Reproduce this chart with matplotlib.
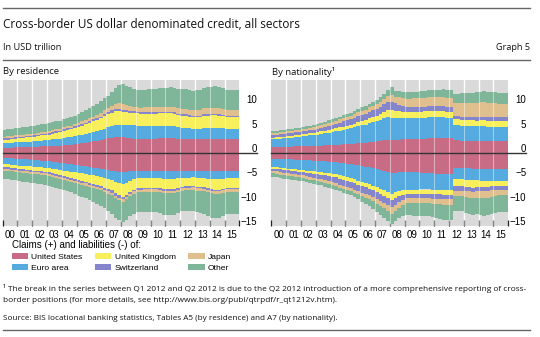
import matplotlib
matplotlib.use("Agg")
import matplotlib.pyplot as plt
import numpy as np
from matplotlib.transforms import ScaledTranslation
from matplotlib.patches import Patch
from matplotlib.lines import Line2D

# ---------------- data (USD trillion, quarterly 2000Q1-2015Q4) ----------------
years = list(range(2000, 2016))
year_labels = ["00", "01", "02", "03", "04", "05", "06", "07",
               "08", "09", "10", "11", "12", "13", "14", "15"]
series_names = ["United States", "Euro area", "United Kingdom",
                "Switzerland", "Japan", "Other"]

# By residence – claims (+)
res_claims_us = [1.1, 1.1, 1.1, 1.2, 1.2, 1.2, 1.3, 1.3, 1.3, 1.3, 1.4, 1.4, 1.4, 1.5, 1.5, 1.5,
                 1.6, 1.7, 1.7, 1.8, 1.9, 2.0, 2.1, 2.2, 2.4, 2.5, 2.6, 2.8, 3.0, 3.1, 3.2, 3.2,
                 3.2, 3.1, 3.0, 2.9, 2.8, 2.8, 2.9, 2.9, 2.9, 2.9, 3.0, 3.0, 3.0, 3.0, 3.0, 2.9,
                 2.9, 2.9, 2.9, 2.8, 2.8, 2.8, 2.9, 2.9, 2.9, 2.9, 2.9, 2.9, 2.9, 2.9, 2.9, 2.9]
res_claims_ea = [0.95, 0.95, 1.0, 1.0, 1.0, 1.0, 1.05, 1.05, 1.1, 1.1, 1.15, 1.2, 1.25, 1.3, 1.35, 1.4,
                 1.5, 1.55, 1.6, 1.65, 1.7, 1.75, 1.8, 1.85, 1.9, 2.0, 2.1, 2.2, 2.3, 2.4, 2.5, 2.6,
                 2.6, 2.7, 2.8, 2.8, 2.8, 2.7, 2.7, 2.7, 2.7, 2.7, 2.6, 2.6, 2.6, 2.6, 2.5, 2.4,
                 2.3, 2.3, 2.2, 2.2, 2.2, 2.2, 2.3, 2.3, 2.3, 2.3, 2.2, 2.2, 2.1, 2.1, 2.1, 2.1]
res_claims_uk = [0.65, 0.7, 0.7, 0.75, 0.8, 0.85, 0.85, 0.9, 0.95, 1.0, 1.05, 1.1, 1.15, 1.2, 1.3, 1.4,
                 1.5, 1.55, 1.6, 1.7, 1.8, 1.9, 2.0, 2.1, 2.2, 2.3, 2.4, 2.6, 2.7, 2.8, 2.9, 2.8,
                 2.6, 2.6, 2.5, 2.6, 2.6, 2.6, 2.5, 2.5, 2.5, 2.5, 2.6, 2.6, 2.6, 2.6, 2.6, 2.5,
                 2.5, 2.5, 2.4, 2.4, 2.4, 2.4, 2.5, 2.5, 2.6, 2.6, 2.6, 2.5, 2.4, 2.4, 2.4, 2.4]
res_claims_ch = [0.3, 0.3, 0.3, 0.3, 0.3, 0.3, 0.3, 0.3, 0.3, 0.3, 0.3, 0.3, 0.3, 0.3, 0.3, 0.3,
                 0.3, 0.3, 0.3, 0.3, 0.35, 0.35, 0.35, 0.35, 0.4, 0.4, 0.4, 0.4, 0.4, 0.45, 0.5, 0.5,
                 0.5, 0.45, 0.4, 0.35, 0.3, 0.3, 0.3, 0.3, 0.3, 0.3, 0.3, 0.3, 0.3, 0.3, 0.3, 0.3,
                 0.3, 0.3, 0.3, 0.3, 0.3, 0.3, 0.3, 0.3, 0.3, 0.3, 0.3, 0.3, 0.3, 0.3, 0.3, 0.3]
res_claims_jp = [0.35, 0.35, 0.35, 0.35, 0.35, 0.35, 0.35, 0.35, 0.35, 0.35, 0.35, 0.35, 0.35, 0.35, 0.4, 0.4,
                 0.4, 0.45, 0.45, 0.5, 0.5, 0.55, 0.55, 0.6, 0.6, 0.65, 0.7, 0.75, 0.8, 0.9, 1.0, 1.1,
                 1.2, 1.1, 1.0, 0.9, 0.9, 0.9, 1.0, 1.0, 1.0, 1.0, 1.0, 1.0, 1.0, 1.0, 1.1, 1.1,
                 1.1, 1.1, 1.1, 1.1, 1.1, 1.1, 1.2, 1.2, 1.2, 1.2, 1.2, 1.2, 1.2, 1.2, 1.2, 1.2]
res_claims_ot = [1.45, 1.45, 1.5, 1.5, 1.5, 1.55, 1.55, 1.6, 1.6, 1.65, 1.7, 1.7, 1.75, 1.75, 1.7, 1.65,
                 1.6, 1.65, 1.7, 1.75, 1.8, 1.9, 2.0, 2.1, 2.2, 2.3, 2.4, 2.5, 2.6, 2.9, 3.3, 3.8,
                 4.0, 3.9, 3.8, 3.6, 3.5, 3.6, 3.6, 3.7, 3.8, 3.8, 3.9, 3.9, 3.9, 4.0, 3.9, 3.9,
                 4.0, 4.0, 4.0, 4.0, 4.1, 4.2, 4.2, 4.3, 4.3, 4.4, 4.3, 4.2, 4.1, 4.1, 4.1, 4.0]

# By residence – liabilities (-), magnitudes
res_liab_us = [1.0, 1.05, 1.1, 1.15, 1.2, 1.25, 1.3, 1.35, 1.4, 1.45, 1.55, 1.6, 1.7, 1.8, 1.9, 2.0,
               2.1, 2.2, 2.3, 2.4, 2.5, 2.6, 2.7, 2.85, 3.0, 3.1, 3.2, 3.35, 3.5, 3.6, 3.8, 3.9,
               4.0, 3.9, 3.8, 3.7, 3.7, 3.7, 3.7, 3.7, 3.7, 3.7, 3.8, 3.8, 3.8, 3.8, 3.8, 3.7,
               3.6, 3.6, 3.6, 3.6, 3.7, 3.7, 3.7, 3.8, 3.8, 3.8, 3.8, 3.8, 3.7, 3.7, 3.7, 3.7]
res_liab_ea = [1.3, 1.3, 1.35, 1.35, 1.4, 1.4, 1.4, 1.4, 1.4, 1.4, 1.4, 1.4, 1.4, 1.45, 1.45, 1.5,
               1.5, 1.5, 1.55, 1.55, 1.6, 1.6, 1.6, 1.6, 1.6, 1.65, 1.7, 1.75, 1.8, 1.9, 2.1, 2.3,
               2.4, 2.2, 1.9, 1.6, 1.4, 1.4, 1.4, 1.4, 1.4, 1.4, 1.4, 1.5, 1.5, 1.5, 1.5, 1.5,
               1.5, 1.5, 1.5, 1.4, 1.4, 1.4, 1.5, 1.5, 1.6, 1.6, 1.6, 1.5, 1.5, 1.5, 1.5, 1.5]
res_liab_uk = [0.6, 0.62, 0.65, 0.68, 0.7, 0.72, 0.75, 0.78, 0.8, 0.82, 0.85, 0.88, 0.9, 0.95, 1.05, 1.1,
               1.2, 1.25, 1.3, 1.4, 1.5, 1.55, 1.6, 1.7, 1.8, 1.85, 1.9, 2.0, 2.1, 2.2, 2.4, 2.5,
               2.6, 2.5, 2.3, 2.2, 2.1, 2.1, 2.0, 2.0, 2.0, 2.0, 2.0, 2.1, 2.1, 2.1, 2.1, 2.0,
               1.8, 1.7, 1.7, 1.7, 1.8, 1.8, 1.8, 1.9, 2.0, 2.1, 2.1, 2.0, 1.9, 1.9, 1.9, 1.9]
res_liab_ch = [0.3, 0.3, 0.3, 0.3, 0.3, 0.3, 0.3, 0.3, 0.3, 0.3, 0.3, 0.3, 0.3, 0.3, 0.3, 0.3,
               0.35, 0.35, 0.35, 0.35, 0.35, 0.35, 0.35, 0.35, 0.4, 0.4, 0.4, 0.4, 0.45, 0.5, 0.5, 0.5,
               0.5, 0.45, 0.4, 0.4, 0.35, 0.35, 0.35, 0.35, 0.35, 0.35, 0.35, 0.35, 0.35, 0.35, 0.35, 0.35,
               0.35, 0.35, 0.35, 0.35, 0.35, 0.35, 0.35, 0.35, 0.35, 0.35, 0.35, 0.35, 0.35, 0.35, 0.35, 0.35]
res_liab_jp = [0.4, 0.4, 0.4, 0.4, 0.4, 0.4, 0.4, 0.4, 0.4, 0.4, 0.4, 0.4, 0.4, 0.4, 0.4, 0.4,
               0.4, 0.4, 0.4, 0.4, 0.45, 0.45, 0.45, 0.45, 0.45, 0.45, 0.45, 0.45, 0.5, 0.5, 0.5, 0.5,
               0.5, 0.5, 0.5, 0.5, 0.5, 0.5, 0.5, 0.5, 0.5, 0.5, 0.5, 0.5, 0.5, 0.5, 0.5, 0.5,
               0.5, 0.5, 0.5, 0.5, 0.5, 0.5, 0.5, 0.5, 0.5, 0.5, 0.5, 0.5, 0.5, 0.5, 0.5, 0.5]
res_liab_ot = [1.7, 1.7, 1.75, 1.75, 1.8, 1.8, 1.85, 1.85, 1.9, 1.9, 1.95, 1.95, 2.0, 2.0, 2.05, 2.05,
               2.1, 2.15, 2.2, 2.3, 2.4, 2.5, 2.6, 2.7, 2.9, 3.0, 3.2, 3.4, 3.6, 3.8, 4.0, 4.1,
               4.2, 4.2, 4.1, 4.1, 4.1, 4.1, 4.1, 4.1, 4.1, 4.2, 4.3, 4.4, 4.4, 4.5, 4.4, 4.3,
               4.2, 4.2, 4.2, 4.3, 4.4, 4.5, 4.7, 4.9, 5.1, 5.1, 5.0, 4.8, 4.6, 4.6, 4.6, 4.6]

# By nationality – claims (+)
nat_claims_us = [1.2, 1.2, 1.25, 1.25, 1.3, 1.3, 1.35, 1.35, 1.4, 1.4, 1.45, 1.45, 1.5, 1.5, 1.55, 1.55,
                 1.6, 1.65, 1.7, 1.75, 1.8, 1.85, 1.95, 2.0, 2.1, 2.15, 2.25, 2.3, 2.4, 2.5, 2.6, 2.7,
                 2.7, 2.7, 2.75, 2.8, 2.8, 2.85, 2.9, 2.9, 2.9, 2.95, 3.0, 3.0, 3.0, 3.0, 3.05, 3.0,
                 3.0, 2.6, 2.6, 2.55, 2.5, 2.5, 2.5, 2.45, 2.4, 2.4, 2.4, 2.4, 2.4, 2.4, 2.4, 2.4]
nat_claims_ea = [1.6, 1.65, 1.7, 1.75, 1.8, 1.85, 1.9, 1.95, 2.0, 2.05, 2.15, 2.2, 2.3, 2.4, 2.5, 2.6,
                 2.7, 2.8, 2.9, 3.0, 3.1, 3.2, 3.3, 3.45, 3.6, 3.7, 3.85, 4.0, 4.1, 4.3, 4.5, 4.6,
                 4.5, 4.5, 4.4, 4.3, 4.3, 4.3, 4.3, 4.3, 4.3, 4.3, 4.4, 4.4, 4.4, 4.4, 4.3, 4.2,
                 4.2, 3.2, 3.2, 3.1, 3.1, 3.1, 3.1, 3.1, 3.1, 3.1, 3.0, 3.0, 2.9, 2.9, 2.9, 2.9]
nat_claims_uk = [0.35, 0.35, 0.38, 0.38, 0.4, 0.4, 0.42, 0.43, 0.45, 0.46, 0.47, 0.48, 0.5, 0.52, 0.55, 0.58,
                 0.6, 0.62, 0.65, 0.68, 0.7, 0.75, 0.8, 0.85, 0.9, 0.95, 1.05, 1.1, 1.2, 1.3, 1.4, 1.6,
                 1.6, 1.5, 1.4, 1.3, 1.3, 1.3, 1.3, 1.3, 1.3, 1.3, 1.3, 1.3, 1.3, 1.3, 1.3, 1.3,
                 1.3, 1.1, 1.1, 1.1, 1.1, 1.1, 1.1, 1.1, 1.2, 1.2, 1.2, 1.2, 1.3, 1.3, 1.3, 1.3]
nat_claims_ch = [0.5, 0.5, 0.52, 0.53, 0.55, 0.56, 0.57, 0.58, 0.6, 0.62, 0.65, 0.68, 0.7, 0.75, 0.8, 0.85,
                 0.9, 0.95, 1.0, 1.05, 1.1, 1.15, 1.2, 1.25, 1.3, 1.3, 1.35, 1.35, 1.4, 1.45, 1.5, 1.55,
                 1.6, 1.5, 1.4, 1.3, 1.0, 1.0, 1.0, 1.0, 1.0, 1.0, 1.0, 1.0, 1.0, 1.0, 1.0, 1.0,
                 1.0, 0.7, 0.7, 0.7, 0.7, 0.7, 0.7, 0.7, 0.7, 0.7, 0.7, 0.7, 0.7, 0.7, 0.7, 0.7]
nat_claims_jp = [0.4, 0.4, 0.4, 0.4, 0.4, 0.4, 0.4, 0.4, 0.4, 0.42, 0.43, 0.44, 0.45, 0.5, 0.52, 0.55,
                 0.6, 0.62, 0.65, 0.68, 0.7, 0.72, 0.75, 0.78, 0.8, 0.82, 0.85, 0.88, 0.9, 1.0, 1.1, 1.2,
                 1.5, 1.4, 1.5, 1.6, 1.7, 1.7, 1.7, 1.7, 1.8, 1.8, 1.8, 1.8, 1.8, 1.8, 1.9, 1.9,
                 1.9, 2.7, 2.7, 2.8, 2.9, 2.9, 2.9, 3.0, 3.0, 3.0, 3.0, 2.9, 2.9, 2.8, 2.8, 2.8]
nat_claims_ot = [0.45, 0.45, 0.47, 0.47, 0.5, 0.5, 0.5, 0.5, 0.5, 0.5, 0.5, 0.5, 0.5, 0.52, 0.55, 0.58,
                 0.6, 0.6, 0.6, 0.6, 0.6, 0.62, 0.65, 0.68, 0.7, 0.75, 0.8, 0.85, 0.9, 1.0, 1.1, 1.2,
                 1.6, 1.2, 1.2, 1.2, 1.4, 1.4, 1.4, 1.4, 1.4, 1.4, 1.5, 1.5, 1.5, 1.5, 1.5, 1.5,
                 1.5, 1.9, 1.9, 2.0, 2.0, 2.1, 2.1, 2.2, 2.2, 2.3, 2.3, 2.3, 2.3, 2.3, 2.3, 2.3]

# By nationality – liabilities (-), magnitudes
nat_liab_us = [1.2, 1.22, 1.25, 1.28, 1.3, 1.32, 1.35, 1.38, 1.4, 1.45, 1.5, 1.55, 1.6, 1.65, 1.7, 1.78,
               1.85, 1.9, 2.0, 2.1, 2.2, 2.3, 2.4, 2.55, 2.7, 2.8, 2.9, 3.05, 3.2, 3.4, 3.6, 3.9,
               4.2, 4.1, 4.0, 4.0, 4.0, 4.0, 4.0, 4.0, 4.1, 4.1, 4.1, 4.2, 4.3, 4.3, 4.4, 4.4,
               4.4, 3.0, 3.0, 3.0, 3.1, 3.1, 3.2, 3.2, 3.3, 3.3, 3.3, 3.3, 3.3, 3.3, 3.3, 3.3]
nat_liab_ea = [1.7, 1.75, 1.8, 1.85, 1.9, 1.95, 2.0, 2.05, 2.1, 2.15, 2.2, 2.25, 2.3, 2.3, 2.35, 2.35,
               2.4, 2.5, 2.6, 2.7, 2.8, 2.9, 3.0, 3.15, 3.3, 3.4, 3.5, 3.65, 3.8, 3.9, 4.0, 4.1,
               4.2, 4.0, 3.8, 3.6, 3.5, 3.5, 3.5, 3.5, 3.4, 3.4, 3.4, 3.4, 3.3, 3.3, 3.3, 3.3,
               3.3, 2.4, 2.4, 2.4, 2.4, 2.4, 2.4, 2.4, 2.4, 2.4, 2.4, 2.4, 2.4, 2.4, 2.4, 2.4]
nat_liab_uk = [0.3, 0.3, 0.32, 0.33, 0.35, 0.36, 0.37, 0.38, 0.4, 0.42, 0.45, 0.48, 0.5, 0.52, 0.55, 0.58,
               0.6, 0.62, 0.65, 0.68, 0.7, 0.72, 0.75, 0.78, 0.8, 0.85, 0.9, 0.95, 1.0, 1.1, 1.2, 1.3,
               1.3, 1.2, 1.1, 1.0, 0.9, 0.9, 0.9, 0.9, 0.9, 0.9, 0.9, 0.9, 0.9, 0.9, 0.9, 0.9,
               0.9, 1.4, 1.4, 1.4, 1.5, 1.5, 1.5, 1.4, 1.3, 1.3, 1.2, 1.1, 1.0, 1.0, 1.0, 1.0]
nat_liab_ch = [0.5, 0.52, 0.55, 0.58, 0.6, 0.63, 0.66, 0.68, 0.7, 0.75, 0.8, 0.85, 0.9, 0.95, 1.05, 1.1,
               1.2, 1.22, 1.25, 1.28, 1.3, 1.3, 1.35, 1.35, 1.4, 1.4, 1.4, 1.4, 1.4, 1.4, 1.4, 1.4,
               1.4, 1.3, 1.2, 1.1, 0.9, 0.9, 0.9, 0.9, 0.9, 0.9, 0.9, 0.9, 0.9, 0.9, 0.9, 0.9,
               0.9, 1.0, 1.0, 1.0, 0.9, 0.9, 0.9, 0.9, 0.9, 0.9, 0.9, 0.9, 1.0, 1.0, 1.0, 1.0]
nat_liab_jp = [0.5, 0.5, 0.5, 0.5, 0.5, 0.5, 0.5, 0.5, 0.5, 0.5, 0.5, 0.5, 0.5, 0.52, 0.55, 0.58,
               0.6, 0.6, 0.6, 0.6, 0.6, 0.62, 0.65, 0.68, 0.7, 0.75, 0.8, 0.9, 1.0, 1.1, 1.2, 1.3,
               1.4, 1.3, 1.1, 1.0, 0.9, 0.9, 0.9, 0.9, 1.0, 1.0, 1.0, 1.0, 1.1, 1.1, 1.1, 1.1,
               1.1, 1.0, 1.0, 1.1, 1.2, 1.3, 1.3, 1.3, 1.4, 1.4, 1.4, 1.3, 1.1, 1.0, 1.0, 1.0]
nat_liab_ot = [0.7, 0.7, 0.7, 0.7, 0.7, 0.7, 0.7, 0.7, 0.7, 0.7, 0.7, 0.7, 0.7, 0.7, 0.7, 0.7,
               0.7, 0.72, 0.75, 0.78, 0.8, 0.85, 0.9, 1.0, 1.1, 1.25, 1.4, 1.55, 1.7, 1.8, 1.9, 2.0,
               2.0, 2.1, 2.2, 2.3, 2.5, 2.6, 2.7, 2.7, 2.7, 2.7, 2.7, 2.8, 2.9, 3.0, 3.1, 3.2,
               3.2, 3.1, 3.1, 3.1, 3.2, 3.3, 3.4, 3.4, 3.5, 3.6, 3.6, 3.5, 3.5, 3.4, 3.4, 3.4]

colors = ["#c86b84", "#55aae0", "#f8ef5c", "#8585cc", "#e0bf8e", "#7fb598"]
BG = "#d9d9d9"

# ---------------- figure ----------------
W, H = 540, 337
fig = plt.figure(figsize=(W / 100, H / 100), dpi=100)
fig.patch.set_facecolor("white")

ARIAL = "Liberation Sans"
SEGOE = "Open Sans"


def fx(px):
    return px / W


def fy(py):
    return 1 - py / H


quarters = [(y, q) for y in years for q in range(4)]
xpos = np.array([y + q * 0.25 + 0.125 for (y, q) in quarters])


def draw_panel(ax, claims, liabs):
    ax.set_facecolor(BG)
    ax.set_xlim(2000, 2016)
    ax.set_ylim(-15, 15)
    for yr in range(2001, 2016):
        ax.axvline(yr, color="white", lw=1.0, zorder=0.5)
    bottom = np.zeros(len(xpos))
    for vals, c in zip(claims, colors):
        v = np.array(vals)
        ax.bar(xpos, v, width=0.25, bottom=bottom, color=c, linewidth=0, zorder=2)
        bottom = bottom + v
    bottom = np.zeros(len(xpos))
    for vals, c in zip(liabs, colors):
        v = -np.array(vals)
        ax.bar(xpos, v, width=0.25, bottom=bottom, color=c, linewidth=0, zorder=2)
        bottom = bottom + v
    for yr in range(2001, 2016):
        ax.axvline(yr, color="white", lw=0.8, alpha=0.45, zorder=3)
    ax.axhline(0, color="#333333", lw=1.0, xmin=0, xmax=1 + 18 / 236.6,
               clip_on=False, zorder=4)
    for s in ax.spines.values():
        s.set_visible(False)
    ax.set_xticks(list(range(2000, 2017)))
    ax.set_xticklabels([])
    ax.set_xticks([y + 0.5 for y in years], minor=True)
    ax.set_xticklabels(year_labels, minor=True, fontsize=7, family=ARIAL)
    ax.tick_params(axis="x", which="major", direction="in", length=4.5,
                   width=0.9, color="#222222")
    ax.tick_params(axis="x", which="minor", length=0, pad=2.6)
    yt = [-15, -10, -5, 0, 5, 10]
    ax.yaxis.tick_right()
    ax.set_yticks(yt)
    ax.set_yticklabels([("\u2212" + str(-v)) if v < 0 else str(v) for v in yt],
                       fontsize=7, family=ARIAL)
    ax.tick_params(axis="y", length=0, pad=0)
    off = ScaledTranslation(0.18, 0.05, fig.dpi_scale_trans)
    for lab in ax.get_yticklabels():
        lab.set_horizontalalignment("right")
        lab.set_transform(lab.get_transform() + off)


ax1 = fig.add_axes([fx(2.7), fy(226), fx(236.6), 146 / H])
ax2 = fig.add_axes([fx(271.3), fy(226), fx(237.0), 146 / H])

draw_panel(ax1,
           [res_claims_us, res_claims_ea, res_claims_uk, res_claims_ch, res_claims_jp, res_claims_ot],
           [res_liab_us, res_liab_ea, res_liab_uk, res_liab_ch, res_liab_jp, res_liab_ot])
draw_panel(ax2,
           [nat_claims_us, nat_claims_ea, nat_claims_uk, nat_claims_ch, nat_claims_jp, nat_claims_ot],
           [nat_liab_us, nat_liab_ea, nat_liab_uk, nat_liab_ch, nat_liab_jp, nat_liab_ot])

# ---------------- header ----------------
for yline in (8.3, 60.0, 329.5):
    fig.add_artist(Line2D([fx(3), fx(530)], [fy(yline), fy(yline)],
                          color="#666666", lw=1.0))

fig.text(fx(3), fy(24), "Cross-border US dollar denominated credit, all sectors",
         family=SEGOE, fontsize=8.5, va="center", ha="left", color="#111111")
fig.text(fx(3), fy(47), "In USD trillion", family=SEGOE, fontsize=6.6,
         va="center", ha="left", color="#111111")
fig.text(fx(530), fy(47), "Graph 5", family=SEGOE, fontsize=6.6,
         va="center", ha="right", color="#111111")
fig.text(fx(3), fy(71.7), "By residence", family=SEGOE, fontsize=6.8,
         va="center", ha="left", color="#111111")
fig.text(fx(271.5), fy(71.7), "By nationality\u00b9", family=SEGOE, fontsize=6.8,
         va="center", ha="left", color="#111111")

# ---------------- legend ----------------
handles = [Patch(facecolor=c, edgecolor="none") for c in colors]
leg = fig.legend(handles, series_names, loc="upper left",
                 bbox_to_anchor=(fx(11.5), fy(240)), ncol=3, frameon=False,
                 prop={"family": ARIAL, "size": 6.1},
                 title="Claims (+) and liabilities (-) of:",
                 title_fontproperties={"family": ARIAL, "size": 7.0},
                 alignment="left", handlelength=1.95, handleheight=0.7,
                 handletextpad=0.4, columnspacing=1.45, labelspacing=0.36,
                 borderpad=0, borderaxespad=0)

# ---------------- footnotes ----------------
fig.text(fx(3), fy(288.3),
         "\u00b9 The break in the series between Q1 2012 and Q2 2012 is due to the Q2 2012 "
         "introduction of a more comprehensive reporting of cross-",
         family=SEGOE, fontsize=5.95, va="center", ha="left", color="#111111")
fig.text(fx(3), fy(300),
         "border positions (for more details, see http://www.bis.org/publ/qtrpdf/r_qt1212v.htm).",
         family=SEGOE, fontsize=5.95, va="center", ha="left", color="#111111")
fig.text(fx(3), fy(319),
         "Source: BIS locational banking statistics, Tables A5 (by residence) and A7 (by nationality).",
         family=SEGOE, fontsize=5.9, va="center", ha="left", color="#111111")

fig.savefig("out.png", dpi=100, facecolor="white")
